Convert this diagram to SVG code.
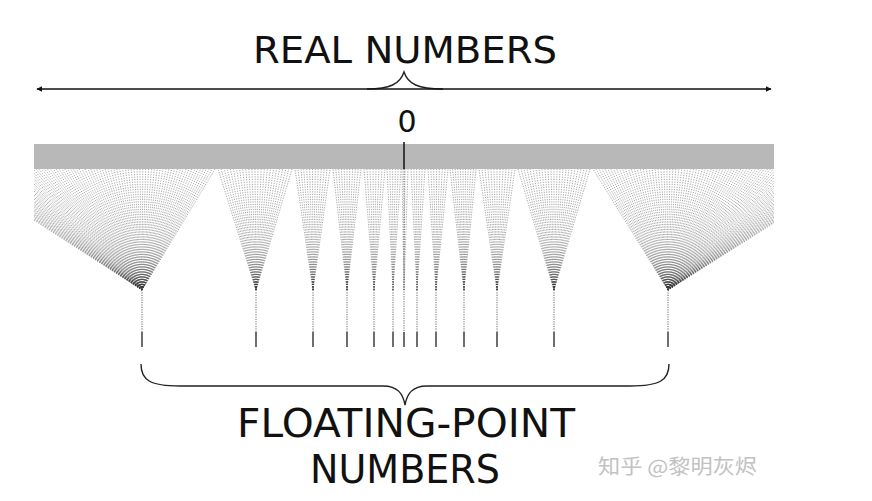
<svg xmlns="http://www.w3.org/2000/svg" xmlns:xlink="http://www.w3.org/1999/xlink" width="872" height="501" viewBox="0 0 872 501">
<style>
.lbl{font-family:"DejaVu Sans","Liberation Sans",sans-serif;fill:#111;}
.fan{fill:none;stroke:#3a3a3a;stroke-opacity:0.75;stroke-width:0.6;stroke-dasharray:1.2 1.3;vector-effect:non-scaling-stroke;}
.drop{fill:none;stroke:#444;stroke-width:0.8;stroke-dasharray:1.2 1.2;}
.tick{stroke:#222;stroke-width:1.3;}
.brace{fill:none;stroke:#222;stroke-width:1.4;}
</style>
<defs>
<marker id="ah" viewBox="0 0 10 10" refX="9" refY="5" markerWidth="6" markerHeight="6" markerUnits="userSpaceOnUse" orient="auto-start-reverse"><path d="M0 0L10 5L0 10z" fill="#111"/></marker>
<clipPath id="bandclip"><rect x="34" y="169" width="740" height="125"/></clipPath>
<path id="f2" class="fan" d="M0 0L0 1M0 0L1 1M0 0L2 1"/>
<path id="f5" class="fan" d="M0 0L0 1M0 0L1 1M0 0L2 1M0 0L3 1M0 0L4 1M0 0L5 1"/>
<path id="f7" class="fan" d="M0 0L0 1M0 0L1 1M0 0L2 1M0 0L3 1M0 0L4 1M0 0L5 1M0 0L6 1M0 0L7 1"/>
<path id="f10" class="fan" d="M0 0L0 1M0 0L1 1M0 0L2 1M0 0L3 1M0 0L4 1M0 0L5 1M0 0L6 1M0 0L7 1M0 0L8 1M0 0L9 1M0 0L10 1"/>
<path id="f12" class="fan" d="M0 0L0 1M0 0L1 1M0 0L2 1M0 0L3 1M0 0L4 1M0 0L5 1M0 0L6 1M0 0L7 1M0 0L8 1M0 0L9 1M0 0L10 1M0 0L11 1M0 0L12 1"/>
<path id="f24" class="fan" d="M0 0L0 1M0 0L1 1M0 0L2 1M0 0L3 1M0 0L4 1M0 0L5 1M0 0L6 1M0 0L7 1M0 0L8 1M0 0L9 1M0 0L10 1M0 0L11 1M0 0L12 1M0 0L13 1M0 0L14 1M0 0L15 1M0 0L16 1M0 0L17 1M0 0L18 1M0 0L19 1M0 0L20 1M0 0L21 1M0 0L22 1M0 0L23 1M0 0L24 1"/>
<path id="f90" class="fan" d="M0 0L0 1M0 0L1 1M0 0L2 1M0 0L3 1M0 0L4 1M0 0L5 1M0 0L6 1M0 0L7 1M0 0L8 1M0 0L9 1M0 0L10 1M0 0L11 1M0 0L12 1M0 0L13 1M0 0L14 1M0 0L15 1M0 0L16 1M0 0L17 1M0 0L18 1M0 0L19 1M0 0L20 1M0 0L21 1M0 0L22 1M0 0L23 1M0 0L24 1M0 0L25 1M0 0L26 1M0 0L27 1M0 0L28 1M0 0L29 1M0 0L30 1M0 0L31 1M0 0L32 1M0 0L33 1M0 0L34 1M0 0L35 1M0 0L36 1M0 0L37 1M0 0L38 1M0 0L39 1M0 0L40 1M0 0L41 1M0 0L42 1M0 0L43 1M0 0L44 1M0 0L45 1M0 0L46 1M0 0L47 1M0 0L48 1M0 0L49 1M0 0L50 1M0 0L51 1M0 0L52 1M0 0L53 1M0 0L54 1M0 0L55 1M0 0L56 1M0 0L57 1M0 0L58 1M0 0L59 1M0 0L60 1M0 0L61 1M0 0L62 1M0 0L63 1M0 0L64 1M0 0L65 1M0 0L66 1M0 0L67 1M0 0L68 1M0 0L69 1M0 0L70 1M0 0L71 1M0 0L72 1M0 0L73 1M0 0L74 1M0 0L75 1M0 0L76 1M0 0L77 1M0 0L78 1M0 0L79 1M0 0L80 1M0 0L81 1M0 0L82 1M0 0L83 1M0 0L84 1M0 0L85 1M0 0L86 1M0 0L87 1M0 0L88 1M0 0L89 1M0 0L90 1"/>
</defs>
<rect width="872" height="501" fill="#fff"/>

<g id="real-numbers-label">
<text class="lbl" x="405" y="63" font-size="38" text-anchor="middle" textLength="304" lengthAdjust="spacingAndGlyphs">REAL NUMBERS</text>
<path class="brace" d="M367 89C390 89 400 84 404 72C408 84 418 89 443 89"/>
</g>

<g id="real-line">
<path d="M37 89H771" fill="none" stroke="#111" stroke-width="1.3" marker-start="url(#ah)" marker-end="url(#ah)"/>
</g>

<g id="zero-label">
<text class="lbl" x="407" y="132" font-size="30" text-anchor="middle">0</text>
</g>

<g id="real-bar">
<rect x="34" y="144" width="740" height="25" fill="#b8b8b8"/>
<line x1="404" y1="142" x2="404" y2="169" stroke="#111" stroke-width="1.5"/>
</g>

<g id="connectors">
<g clip-path="url(#bandclip)">
<use xlink:href="#f90" transform="matrix(2.889 0 -187 -121 142 290)"/>
<use xlink:href="#f24" transform="matrix(3.083 0 -38 -121 256 290)"/>
<use xlink:href="#f12" transform="matrix(2.917 0 -18 -121 313 290)"/>
<use xlink:href="#f10" transform="matrix(2.8 0 -14 -121 347 290)"/>
<use xlink:href="#f7" transform="matrix(3 0 -10 -121 374 290)"/>
<use xlink:href="#f5" transform="matrix(2.8 0 -6 -121 393 290)"/>
<use xlink:href="#f2" transform="matrix(3 0 -2 -121 404 290)"/>
<use xlink:href="#f5" transform="matrix(2.8 0 -6 -121 417 290)"/>
<use xlink:href="#f7" transform="matrix(2.857 0 -8 -121 436 290)"/>
<use xlink:href="#f10" transform="matrix(2.6 0 -14 -121 464 290)"/>
<use xlink:href="#f12" transform="matrix(3 0 -18 -121 497 290)"/>
<use xlink:href="#f24" transform="matrix(3 0 -36 -121 554 290)"/>
<use xlink:href="#f90" transform="matrix(2.956 0 -75 -121 668 290)"/>
</g>
<path class="drop" d="M142 290V332M256 290V332M313 290V332M347 290V332M374 290V332M393 290V332M404 169V332M417 290V332M436 290V332M464 290V332M497 290V332M554 290V332M668 290V332"/>
</g>

<g id="float-ticks">
<path class="tick" d="M142 332V347M256 332V347M313 332V347M347 332V347M374 332V347M393 332V347M404 332V347M417 332V347M436 332V347M464 332V347M497 332V347M554 332V347M668 332V347"/>
</g>

<g id="float-label">
<path class="brace" d="M141 364C141 380 150 386 180 386L383 386C398 386 403 394 405 405C407 394 412 386 427 386L630 386C660 386 669 380 669 364"/>
<text class="lbl" x="406" y="437" font-size="39" text-anchor="middle" textLength="338" lengthAdjust="spacingAndGlyphs">FLOATING-POINT</text>
<text class="lbl" x="405" y="483" font-size="39" text-anchor="middle" textLength="190" lengthAdjust="spacingAndGlyphs">NUMBERS</text>
</g>

<g id="watermark">
<text x="598" y="474" font-size="20" fill="#c2c2c2" font-family="'Noto Sans CJK SC','DejaVu Sans',sans-serif" textLength="159" lengthAdjust="spacingAndGlyphs">知乎 @黎明灰烬</text>
</g>
</svg>
